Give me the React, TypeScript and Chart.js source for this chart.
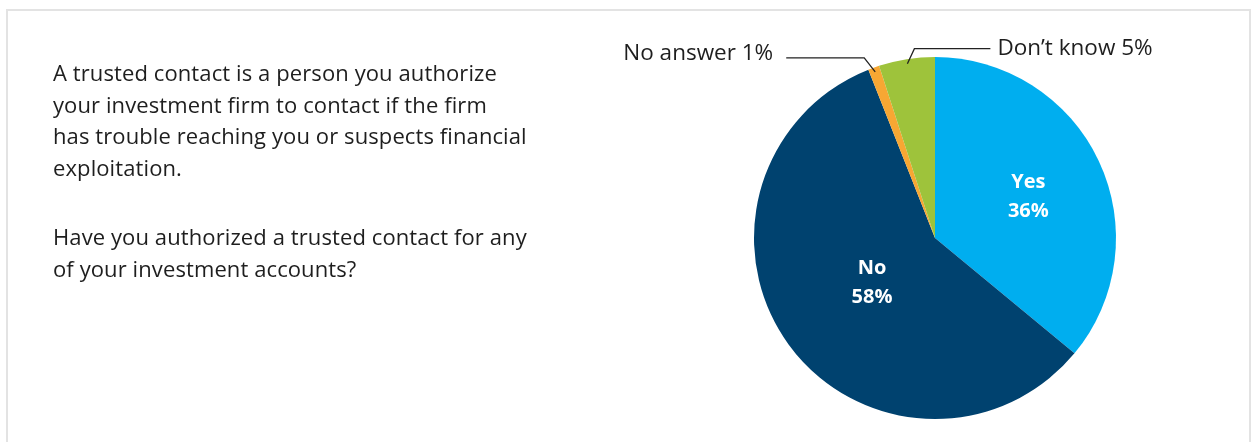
import React, { useEffect, useRef } from "react";
import { Chart, registerables } from "chart.js";

Chart.register(...registerables);

const categories = ["Yes", "No", "No answer", "Don\u2019t know"];
const values = [36, 58, 1, 5];
const colors = ["#00AEEF", "#00426F", "#F7A733", "#9EC33B"];
const introLines = [
  "A trusted contact is a person you authorize",
  "your investment firm to contact if the firm",
  "has trouble reaching you or suspects financial",
  "exploitation.",
];
const questionLines = [
  "Have you authorized a trusted contact for any",
  "of your investment accounts?",
];

const FONT = "'Open Sans', 'Noto Sans', sans-serif";

// label styling per slice: inside labels use a radius fraction, outside ones use a leader line
const labelStyle = [
  { kind: "inside", frac: 0.57, dy: 2 },
  { kind: "inside", frac: 0.43, dy: -1 },
  { kind: "outside", ex: -11, ey: -14, len: 78, side: -1, ty: -4, gap: 13 },
  { kind: "outside", ex: 7, ey: -15, len: 76, side: 1, ty: 0, gap: 7 },
];

const labelPlugin = {
  id: "sliceLabels",
  afterDatasetsDraw(chart: any) {
    const ctx = chart.ctx;
    const meta = chart.getDatasetMeta(0);
    meta.data.forEach((arc: any, i: number) => {
      const p = arc.getProps(["x", "y", "startAngle", "endAngle", "outerRadius"], true);
      const mid = (p.startAngle + p.endAngle) / 2;
      const st: any = labelStyle[i];
      const pct = values[i] + "%";
      ctx.save();
      if (st.kind === "inside") {
        const lx = p.x + Math.cos(mid) * p.outerRadius * st.frac;
        const ly = p.y + Math.sin(mid) * p.outerRadius * st.frac + st.dy;
        ctx.fillStyle = "#ffffff";
        ctx.font = "bold 20px " + FONT;
        ctx.textAlign = "center";
        ctx.textBaseline = "middle";
        ctx.fillText(categories[i], lx, ly - 14);
        ctx.fillText(pct, lx, ly + 15);
      } else {
        const ax = p.x + Math.cos(mid) * p.outerRadius * 0.975;
        const ay = p.y + Math.sin(mid) * p.outerRadius * 0.975;
        const bx = ax + st.ex;
        const by = ay + st.ey;
        const cx = bx + st.side * st.len;
        ctx.strokeStyle = "#222222";
        ctx.lineWidth = 1.3;
        ctx.beginPath();
        ctx.moveTo(ax, ay);
        ctx.lineTo(bx, by);
        ctx.lineTo(cx, by);
        ctx.stroke();
        ctx.fillStyle = "#1e1e1e";
        ctx.font = "22.5px " + FONT;
        ctx.textBaseline = "middle";
        ctx.textAlign = st.side < 0 ? "right" : "left";
        ctx.fillText(categories[i] + " " + pct, cx + st.side * st.gap, by + st.ty);
      }
      ctx.restore();
    });
  },
};

export default function App() {
  const ref = useRef<HTMLCanvasElement | null>(null);

  useEffect(() => {
    if (!ref.current) return;
    const chart = new Chart(ref.current, {
      type: "pie",
      data: {
        labels: categories,
        datasets: [
          {
            data: values,
            backgroundColor: colors,
            borderWidth: 0,
            hoverBorderWidth: 0,
            hoverOffset: 0,
          },
        ],
      },
      options: {
        animation: false,
        responsive: false,
        events: [],
        layout: { padding: { left: 754, right: 135, top: 57, bottom: 23 } },
        plugins: {
          legend: { display: false },
          tooltip: { enabled: false },
        },
      },
      plugins: [labelPlugin],
    });
    return () => chart.destroy();
  }, []);

  const textStyle: React.CSSProperties = {
    fontFamily: FONT,
    fontSize: 22,
    letterSpacing: "0.1px",
    lineHeight: "31.6px",
    color: "#1e1e1e",
    whiteSpace: "nowrap",
    margin: 0,
  };

  return (
    <div
      style={{
        position: "fixed",
        left: 0,
        top: 0,
        width: 1251,
        height: 442,
        background: "#ffffff",
        overflow: "hidden",
      }}
    >
      <div
        style={{
          position: "absolute",
          left: 6,
          top: 9,
          width: 1245,
          height: 460,
          boxSizing: "border-box",
          border: "2px solid #e3e3e3",
        }}
      />
      <canvas
        ref={ref}
        width={1251}
        height={442}
        style={{ position: "absolute", left: 0, top: 0, width: 1251, height: 442 }}
      />
      <div style={{ position: "absolute", left: 53, top: 57 }}>
        <p style={textStyle}>
          {introLines.map((l, i) => (
            <React.Fragment key={i}>
              {l}
              {i < introLines.length - 1 ? <br /> : null}
            </React.Fragment>
          ))}
        </p>
        <p style={{ ...textStyle, marginTop: 38 }}>
          {questionLines.map((l, i) => (
            <React.Fragment key={i}>
              {l}
              {i < questionLines.length - 1 ? <br /> : null}
            </React.Fragment>
          ))}
        </p>
      </div>
    </div>
  );
}
